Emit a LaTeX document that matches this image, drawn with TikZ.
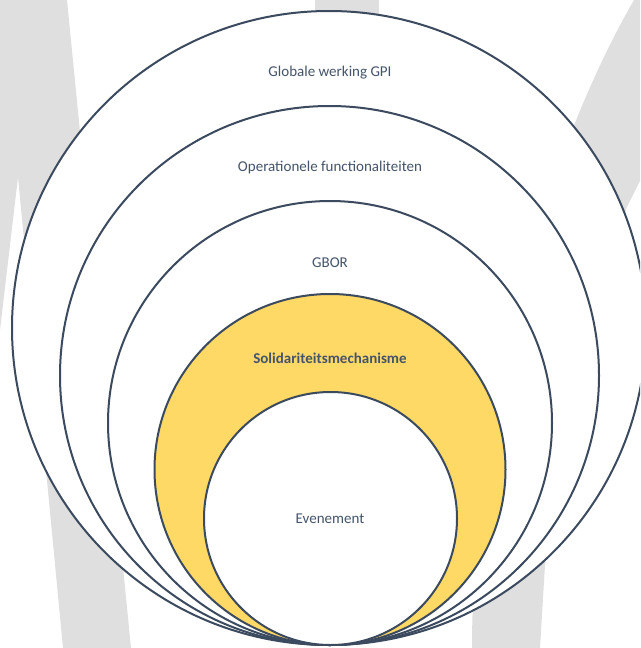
\documentclass[tikz,border=0pt]{standalone}
\usepackage{fontspec}
\setmainfont{Carlito}
\definecolor{ringline}{HTML}{3B4A5E}
\definecolor{ringtext}{HTML}{44546A}
\definecolor{ringgold}{HTML}{FFD966}
\definecolor{logogrey}{HTML}{DFDFDF}
\tikzset{
  ring/.style={draw=ringline, line width=2pt, circle, fill=white, inner sep=0pt},
  ringlabel/.style={text=ringtext, font=\fontsize{15}{17}\selectfont},
}
\begin{document}
\begin{tikzpicture}[x=1pt,y=-1pt]
\clip (0,0) rectangle (640,648);
% grey letter shapes in the background
\fill[logogrey] (0,0) -- (67,0) -- (131,648) -- (63,648) -- (18,177) -- (0,330) -- cycle;
\fill[logogrey] (315,0) rectangle (379,30);
\fill[logogrey] (634,0) .. controls (530,180) and (472,450) .. (472,648) -- (540,648) -- (545,565)
  .. controls (565,420) and (595,290) .. (627,207) -- (720,20) -- (720,0) -- cycle;
% nested rings, all touching at the bottom
\node[ring, minimum size=634] (gpi) at (329,328) {};
\node[ring, minimum size=539] (ops) at (329.5,375.5) {};
\node[ring, minimum size=444] (gbor) at (330,423) {};
\node[ring, fill=ringgold, minimum size=351] (sol) at (330,469.5) {};
\node[ring, minimum size=253] (ev) at (330.5,518.5) {};
% labels
\node[ringlabel] (gpitext) at (330,73) {Globale werking GPI};
\node[ringlabel] (opstext) at (330,167) {Operationele functionaliteiten};
\node[ringlabel] (gbortext) at (330,263) {GBOR};
\node[ringlabel, font=\fontsize{15}{17}\selectfont\bfseries] (soltext) at (330,358) {Solidariteitsmechanisme};
\node[ringlabel] (evtext) at (330,519) {Evenement};
\end{tikzpicture}
\end{document}
